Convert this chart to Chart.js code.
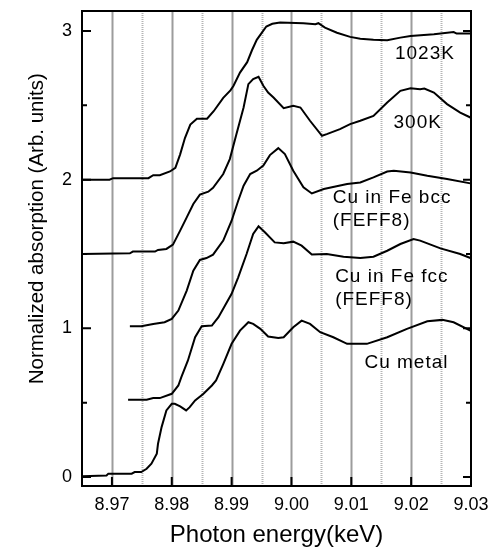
<!DOCTYPE html>
<html><head><meta charset="utf-8">
<script src="https://cdn.jsdelivr.net/npm/chart.js@4/dist/chart.umd.min.js"></script>
<style>html,body{margin:0;padding:0;background:#fff}</style>
</head><body>
<canvas id="c" width="491" height="547"></canvas>
<script>
// ---- data ----
const xTickValues = [8.97, 8.98, 8.99, 9.00, 9.01, 9.02, 9.03];
const xGridValues = [8.97, 8.975, 8.98, 8.985, 8.99, 8.995, 9.00, 9.005, 9.01, 9.015, 9.02, 9.025];
const yTickValues = [0, 1, 2, 3];
const yMinorValues = [0.5, 1.5, 2.5];

const e1023 = [8.965, 8.9696, 8.9702, 8.9761, 8.9769, 8.978, 8.9797, 8.9806, 8.9814, 8.9822, 8.9831, 8.9842, 8.9859, 8.987, 8.9886, 8.9898, 8.9903, 8.9914, 8.9926, 8.9934, 8.9942, 8.9950, 8.9958, 8.9968, 8.9981, 9.0020, 9.0040, 9.0045, 9.0056, 9.0076, 9.0098, 9.0115, 9.0137, 9.0160, 9.0182, 9.0199, 9.0238, 9.0271, 9.0276, 9.0299];
const a1023 = [2.0, 2.0, 2.01, 2.01, 2.03, 2.03, 2.055, 2.08, 2.17, 2.28, 2.37, 2.41, 2.41, 2.46, 2.55, 2.60, 2.63, 2.72, 2.79, 2.87, 2.94, 2.985, 3.03, 3.048, 3.056, 3.052, 3.045, 3.052, 3.022, 2.988, 2.960, 2.948, 2.940, 2.938, 2.955, 2.966, 2.978, 2.992, 2.982, 2.982];

const e300 = [8.965, 8.9730, 8.9735, 8.9772, 8.9777, 8.9791, 8.9802, 8.9814, 8.9825, 8.9836, 8.9847, 8.9861, 8.9869, 8.9886, 8.9897, 8.9908, 8.9920, 8.9928, 8.9936, 8.9945, 8.9953, 8.9961, 8.9970, 8.9987, 9.0003, 9.0015, 9.0031, 9.0051, 9.0059, 9.0081, 9.0098, 9.0115, 9.0137, 9.0160, 9.0182, 9.0199, 9.0215, 9.0222, 9.0238, 9.0260, 9.0282, 9.0299];
const a300 = [1.5, 1.505, 1.516, 1.516, 1.527, 1.534, 1.563, 1.657, 1.746, 1.836, 1.899, 1.919, 1.945, 2.038, 2.138, 2.306, 2.485, 2.642, 2.676, 2.691, 2.631, 2.586, 2.552, 2.481, 2.496, 2.485, 2.396, 2.295, 2.306, 2.340, 2.373, 2.396, 2.429, 2.519, 2.597, 2.615, 2.608, 2.612, 2.586, 2.508, 2.451, 2.418];

const eBcc = [8.9730, 8.9749, 8.9769, 8.9788, 8.9800, 8.9811, 8.9825, 8.9836, 8.9847, 8.9858, 8.9869, 8.9886, 8.9900, 8.9911, 8.9920, 8.9931, 8.9942, 8.9953, 8.9964, 8.9978, 8.9989, 9.0003, 9.0020, 9.0034, 9.0054, 9.0093, 9.0115, 9.0137, 9.0160, 9.0171, 9.0199, 9.0227, 9.0260, 9.0299];
const aBcc = [1.014, 1.014, 1.030, 1.041, 1.064, 1.120, 1.254, 1.388, 1.460, 1.473, 1.496, 1.590, 1.724, 1.858, 1.959, 2.038, 2.060, 2.095, 2.165, 2.212, 2.172, 2.060, 1.948, 1.907, 1.937, 1.970, 1.981, 2.015, 2.055, 2.060, 2.048, 2.026, 2.004, 1.975];

const eFcc = [8.9727, 8.9758, 8.9769, 8.9780, 8.9800, 8.9811, 8.9816, 8.9827, 8.9839, 8.9850, 8.9867, 8.9878, 8.9889, 8.9900, 8.9911, 8.9925, 8.9936, 8.9945, 8.9956, 8.9972, 8.9987, 9.0003, 9.0017, 9.0034, 9.0059, 9.0087, 9.0115, 9.0137, 9.0160, 9.0182, 9.0204, 9.0215, 9.0249, 9.0282, 9.0299];
const aFcc = [0.520, 0.520, 0.531, 0.531, 0.560, 0.616, 0.672, 0.784, 0.940, 1.014, 1.019, 1.075, 1.153, 1.232, 1.343, 1.500, 1.635, 1.686, 1.645, 1.578, 1.572, 1.583, 1.556, 1.496, 1.500, 1.482, 1.473, 1.482, 1.522, 1.567, 1.601, 1.590, 1.538, 1.500, 1.473];

const eCu = [8.965, 8.9691, 8.9694, 8.9733, 8.9738, 8.9749, 8.9758, 8.9766, 8.9775, 8.9777, 8.9783, 8.9791, 8.9800, 8.9805, 8.9814, 8.9824, 8.9830, 8.9839, 8.9853, 8.9867, 8.9874, 8.9886, 8.9900, 8.9914, 8.9928, 8.9936, 8.9948, 8.9961, 8.9978, 8.9987, 9.0003, 9.0017, 9.0031, 9.0048, 9.0070, 9.0093, 9.0126, 9.0160, 9.0193, 9.0227, 9.0252, 9.0271, 9.0299];
const aCu = [0.005, 0.011, 0.023, 0.023, 0.034, 0.034, 0.056, 0.090, 0.157, 0.224, 0.336, 0.448, 0.493, 0.493, 0.475, 0.448, 0.470, 0.515, 0.560, 0.616, 0.650, 0.760, 0.896, 0.985, 1.041, 1.030, 0.997, 0.945, 0.936, 0.940, 1.007, 1.052, 1.030, 0.974, 0.940, 0.896, 0.896, 0.940, 0.997, 1.048, 1.057, 1.041, 0.985];

const seriesLabels = ['1023K', '300K', 'Cu in Fe bcc (FEFF8)', 'Cu in Fe fcc (FEFF8)', 'Cu metal'];

// ---- chart ----
const FONT = "'Liberation Sans', Arial, sans-serif";
const toPts = (xs, ys) => xs.map((x, i) => ({x: x, y: ys[i]}));
const seriesData = [[e1023, a1023], [e300, a300], [eBcc, aBcc], [eFcc, aFcc], [eCu, aCu]];

// annotation text placed in data coordinates
const annotations = [
  {lines: ['1023K'], x: 9.0223, y: 2.846, align: 'center'},
  {lines: ['300K'], x: 9.0211, y: 2.382, align: 'center'},
  {lines: ['Cu in Fe bcc', '(FEFF8)'], x: 9.0069, y: 1.878, align: 'left'},
  {lines: ['Cu in Fe fcc', '(FEFF8)'], x: 9.0073, y: 1.348, align: 'left'},
  {lines: ['Cu metal'], x: 9.0122, y: 0.772, align: 'left'}
];

const framePlugin = {
  id: 'frame',
  beforeDatasetsDraw(chart) {
    const {ctx, chartArea: a, scales: {x}} = chart;
    ctx.save();
    xGridValues.forEach(v => {
      const px = Math.round(x.getPixelForValue(v)) + 0.5;
      const major = Math.abs(v * 100 - Math.round(v * 100)) < 1e-6;
      ctx.strokeStyle = major ? '#9c9c9c' : '#b4b4b4';
      ctx.lineWidth = 2;
      ctx.setLineDash(major ? [] : [1, 1]);
      ctx.beginPath(); ctx.moveTo(px, a.top); ctx.lineTo(px, a.bottom); ctx.stroke();
    });
    ctx.restore();
  },
  afterDatasetsDraw(chart) {
    const {ctx, chartArea: a, scales: {x, y}} = chart;
    ctx.save();
    ctx.setLineDash([]);
    ctx.strokeStyle = '#000';
    ctx.lineWidth = 2;
    ctx.strokeRect(a.left, a.top, a.right - a.left, a.bottom - a.top);
    ctx.beginPath();
    xTickValues.forEach(v => {
      const px = x.getPixelForValue(v);
      ctx.moveTo(px, a.bottom); ctx.lineTo(px, a.bottom - 9);
    });
    yTickValues.forEach(v => {
      const py = y.getPixelForValue(v);
      ctx.moveTo(a.left, py); ctx.lineTo(a.left + 9, py);
      ctx.moveTo(a.right, py); ctx.lineTo(a.right - 8, py);
    });
    yMinorValues.forEach(v => {
      const py = y.getPixelForValue(v);
      ctx.moveTo(a.left, py); ctx.lineTo(a.left + 5, py);
      ctx.moveTo(a.right, py); ctx.lineTo(a.right - 5, py);
    });
    ctx.stroke();

    // annotations
    ctx.fillStyle = '#000';
    ctx.font = '19px ' + FONT;
    if ('letterSpacing' in ctx) ctx.letterSpacing = '1px';
    ctx.textBaseline = 'middle';
    annotations.forEach(an => {
      ctx.textAlign = an.align;
      const px = x.getPixelForValue(an.x);
      const py = y.getPixelForValue(an.y);
      an.lines.forEach((t, i) => ctx.fillText(t, px, py + i * 23));
    });
    if ('letterSpacing' in ctx) ctx.letterSpacing = '0px';

    // y-axis title
    ctx.font = '20.5px ' + FONT;
    ctx.textAlign = 'center';
    ctx.translate(37, y.getPixelForValue(1.67));
    ctx.rotate(-Math.PI / 2);
    ctx.fillText('Normalized absorption (Arb. units)', 0, 0);
    ctx.restore();
  }
};

new Chart(document.getElementById('c'), {
  type: 'line',
  data: {
    datasets: seriesData.map((s, i) => ({
      label: seriesLabels[i],
      data: toPts(s[0], s[1]),
      borderColor: '#000',
      borderWidth: 2,
      pointRadius: 0,
      tension: 0,
      fill: false
    }))
  },
  options: {
    responsive: false,
    devicePixelRatio: 1,
    animation: false,
    layout: {padding: {top: 11, right: 20, left: 0, bottom: 0}},
    plugins: {legend: {display: false}, tooltip: {enabled: false}},
    scales: {
      x: {
        type: 'linear', min: 8.965, max: 9.03,
        afterBuildTicks: s => { s.ticks = xTickValues.map(v => ({value: v})); },
        afterFit: s => { s.height = 61; s.paddingLeft = 0; s.paddingRight = 0; },
        grid: {display: false, drawTicks: false},
        border: {display: false},
        ticks: {
          color: '#000', padding: 8, maxRotation: 0, autoSkip: false,
          font: {family: FONT, size: 18},
          callback: v => Number(v).toFixed(2)
        },
        title: {display: true, text: 'Photon energy(keV)', color: '#000',
          font: {family: FONT, size: 24}, padding: {top: 0, bottom: -3}}
      },
      y: {
        type: 'linear', min: -0.06, max: 3.134,
        afterBuildTicks: s => { s.ticks = yTickValues.map(v => ({value: v})); },
        afterFit: s => { s.width = 82; s.paddingTop = 0; s.paddingBottom = 0; },
        grid: {display: false, drawTicks: false},
        border: {display: false},
        ticks: {color: '#000', padding: 10, font: {family: FONT, size: 18},
          callback: v => String(v)}
      }
    }
  },
  plugins: [framePlugin]
});
</script>
</body></html>
